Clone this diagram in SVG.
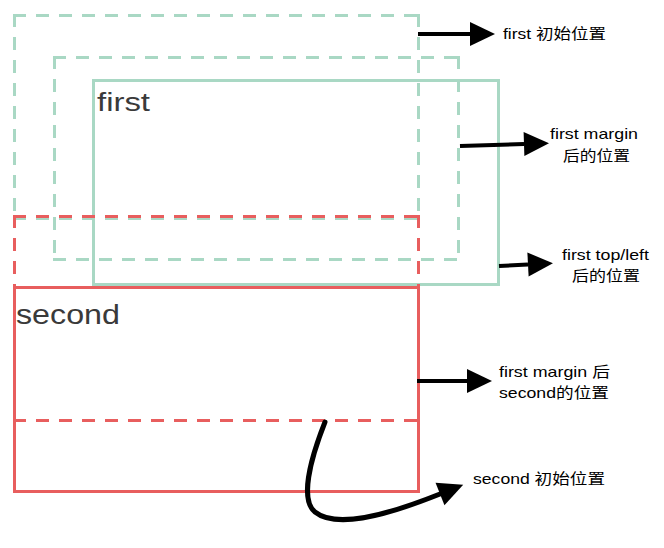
<svg xmlns="http://www.w3.org/2000/svg" width="664" height="548" viewBox="0 0 664 548">
<style>
.g{fill:none;stroke:#a9d8c4;stroke-width:3}
.r{fill:none;stroke:#e85e5e;stroke-width:3}
.d{stroke-dasharray:13 10}
.t{font-family:"Liberation Sans","Noto Sans CJK SC",sans-serif;font-size:15px;fill:#000}
.big{font-family:"Liberation Sans","Noto Sans CJK SC",sans-serif;fill:#3a3a3a}
.a{fill:none;stroke:#000;stroke-width:4}
</style>
<defs>
<marker id="ah" viewBox="0 -12 25 24" refX="0" refY="0" markerWidth="25" markerHeight="24" markerUnits="userSpaceOnUse" orient="auto" overflow="visible">
<path d="M0,-12 L25,0 L0,12 z" fill="#000"/>
</marker>
</defs>
<g id="first-initial"><path class="g d" d="M13,15.5 H420 M14.5,14 V220 M418.5,14 V220 M13,218.5 H420"/></g>
<g id="first-margin"><path class="g d" d="M53,57.5 H460 M54.5,56 V261 M458.5,56 V261 M53,259.5 H460"/></g>
<g id="first"><rect class="g" x="93.5" y="80.5" width="405" height="204"/>
<text class="big" x="97" y="111" font-size="26" textLength="53" lengthAdjust="spacingAndGlyphs">first</text></g>
<g id="second-initial"><path class="r d" d="M13,216.5 H420 M14.5,215 V422 M418.5,215 V422 M13,420.5 H420"/></g>
<g id="second"><rect class="r" x="14.5" y="287.5" width="404" height="204"/>
<text class="big" x="16" y="324" font-size="28" textLength="104" lengthAdjust="spacingAndGlyphs">second</text></g>
<g id="connectors">
<path class="a" d="M418,34 L470,34" marker-end="url(#ah)"/>
<path class="a" d="M460,146 L524,144" marker-end="url(#ah)"/>
<path class="a" d="M499,266 L528,264.5" marker-end="url(#ah)"/>
<path class="a" d="M417,381 L467,381" marker-end="url(#ah)"/>
<path class="a" style="stroke-width:5;stroke-linecap:round" d="M325,422 C310,460 300,500 315,512 C335,528 380,518 440,494" marker-end="url(#ah)"/>
</g>
<g id="label-first-initial"><text class="t" x="503" y="39" textLength="103" lengthAdjust="spacingAndGlyphs">first 初始位置</text></g>
<g id="label-first-margin"><text class="t" x="550" y="139" textLength="88" lengthAdjust="spacingAndGlyphs">first margin</text>
<text class="t" x="563" y="161" textLength="67" lengthAdjust="spacingAndGlyphs">后的位置</text></g>
<g id="label-first-topleft"><text class="t" x="562" y="260" textLength="87" lengthAdjust="spacingAndGlyphs">first top/left</text>
<text class="t" x="572" y="281" textLength="68" lengthAdjust="spacingAndGlyphs">后的位置</text></g>
<g id="label-second-margin"><text class="t" x="499" y="377" textLength="111" lengthAdjust="spacingAndGlyphs">first margin 后</text>
<text class="t" x="499" y="398" textLength="110" lengthAdjust="spacingAndGlyphs">second的位置</text></g>
<g id="label-second-initial"><text class="t" x="473" y="484" textLength="132" lengthAdjust="spacingAndGlyphs">second 初始位置</text></g>
</svg>
